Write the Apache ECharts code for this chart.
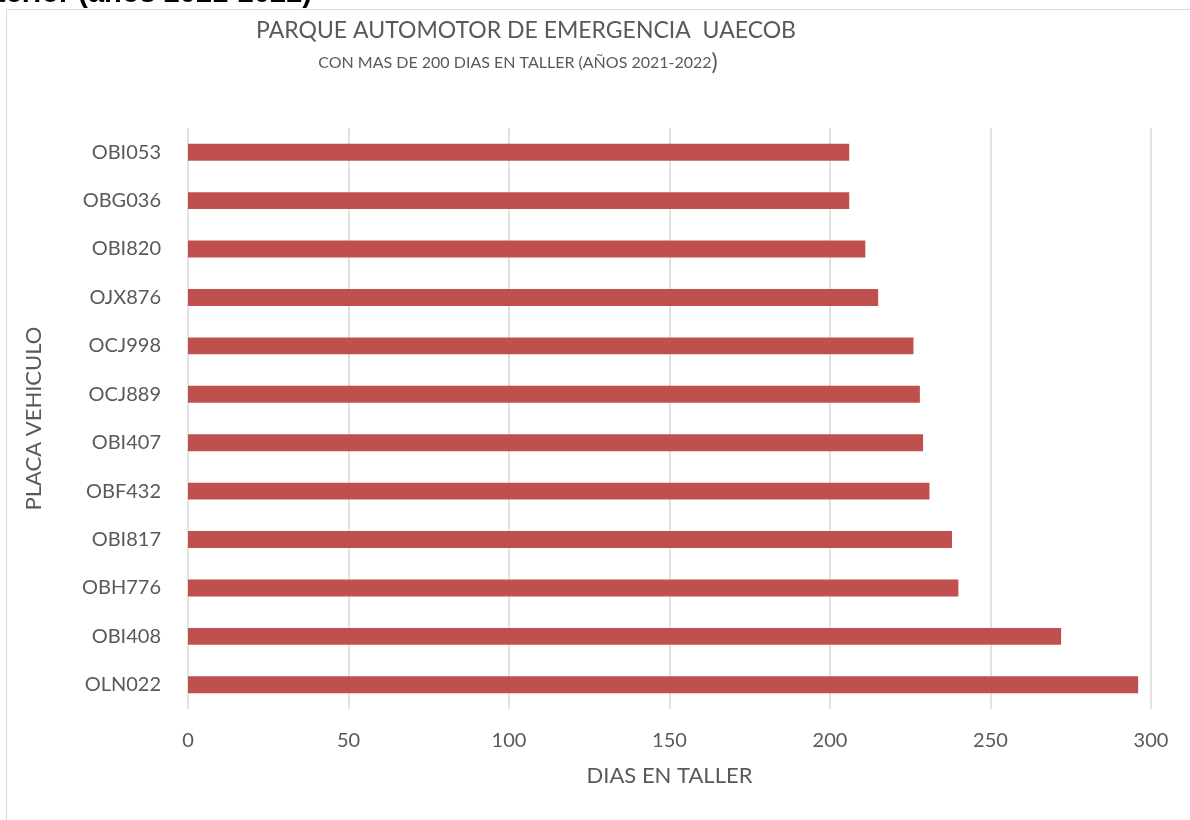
<!DOCTYPE html>
<html>
<head>
<meta charset="utf-8">
<script src="https://cdn.jsdelivr.net/npm/echarts@6/dist/echarts.min.js"></script>
<style>
html,body{margin:0;padding:0;background:#fff;}
#chart{width:1190px;height:820px;}
</style>
</head>
<body>
<div id="chart"></div>
<script>
const categories = ["OBI053","OBG036","OBI820","OJX876","OCJ998","OCJ889","OBI407","OBF432","OBI817","OBH776","OBI408","OLN022"];
const diasTaller = [206,206,211,215,226,228,229,231,238,240,272,296];
const xTicks = {min:0, max:300, interval:50};
const titleText = "PARQUE AUTOMOTOR DE EMERGENCIA  UAECOB";
const subtitleText = "CON MAS DE 200 DIAS EN TALLER (AÑOS 2021-2022";
const headerText = "Anterior (años 2021-2022)";
const xName = "DIAS EN TALLER";
const yName = "PLACA VEHICULO";

const FONT = "Lato, 'Open Sans', sans-serif";
const chart = echarts.init(document.getElementById('chart'), null, {renderer:'canvas'});
chart.setOption({
  backgroundColor:'#ffffff',
  animation:false,
  graphic:[
    {type:'rect', silent:true, shape:{x:6.5,y:9.5,width:1300,height:900},
     style:{fill:'none', stroke:'#d9d9d9', lineWidth:1}},
    {type:'text', x:312, y:8, silent:true,
     style:{text:headerText, font:"bold 29px 'Liberation Sans', Arial, sans-serif", fill:'#000', align:'right', verticalAlign:'bottom'}},
    {type:'text', x:526, y:31, silent:true,
     style:{text:titleText, font:"23px "+FONT, fill:'#595959', align:'center', verticalAlign:'middle'}},
    {type:'text', x:518, y:63, silent:true,
     style:{text:'{a|'+subtitleText+'}{b|)}', align:'center', verticalAlign:'middle', fill:'#595959',
       rich:{a:{fontSize:16, fontFamily:FONT, fill:'#595959'},
             b:{fontSize:23, fontFamily:FONT, fill:'#595959'}}}}
  ],
  grid:{left:188, right:39, top:128, bottom:111, containLabel:false},
  xAxis:{
    type:'value', min:xTicks.min, max:xTicks.max, interval:xTicks.interval,
    name:xName, nameLocation:'middle', nameGap:56,
    nameTextStyle:{fontSize:22, color:'#595959', fontFamily:FONT},
    axisLine:{show:false}, axisTick:{show:false},
    axisLabel:{fontSize:20, color:'#595959', fontFamily:FONT, margin:22},
    splitLine:{show:true, lineStyle:{color:'#d9d9d9', width:1.5}}
  },
  yAxis:{
    type:'category', data:categories, inverse:true,
    name:yName, nameLocation:'middle', nameGap:143, nameRotate:90,
    nameTextStyle:{fontSize:22, color:'#595959', fontFamily:FONT},
    axisLine:{show:false}, axisTick:{show:false},
    axisLabel:{fontSize:20, color:'#595959', fontFamily:FONT, margin:27}
  },
  series:[{
    type:'bar', data:diasTaller, barWidth:'35%',
    itemStyle:{color:'#C0504D'}
  }]
});
</script>
</body>
</html>
